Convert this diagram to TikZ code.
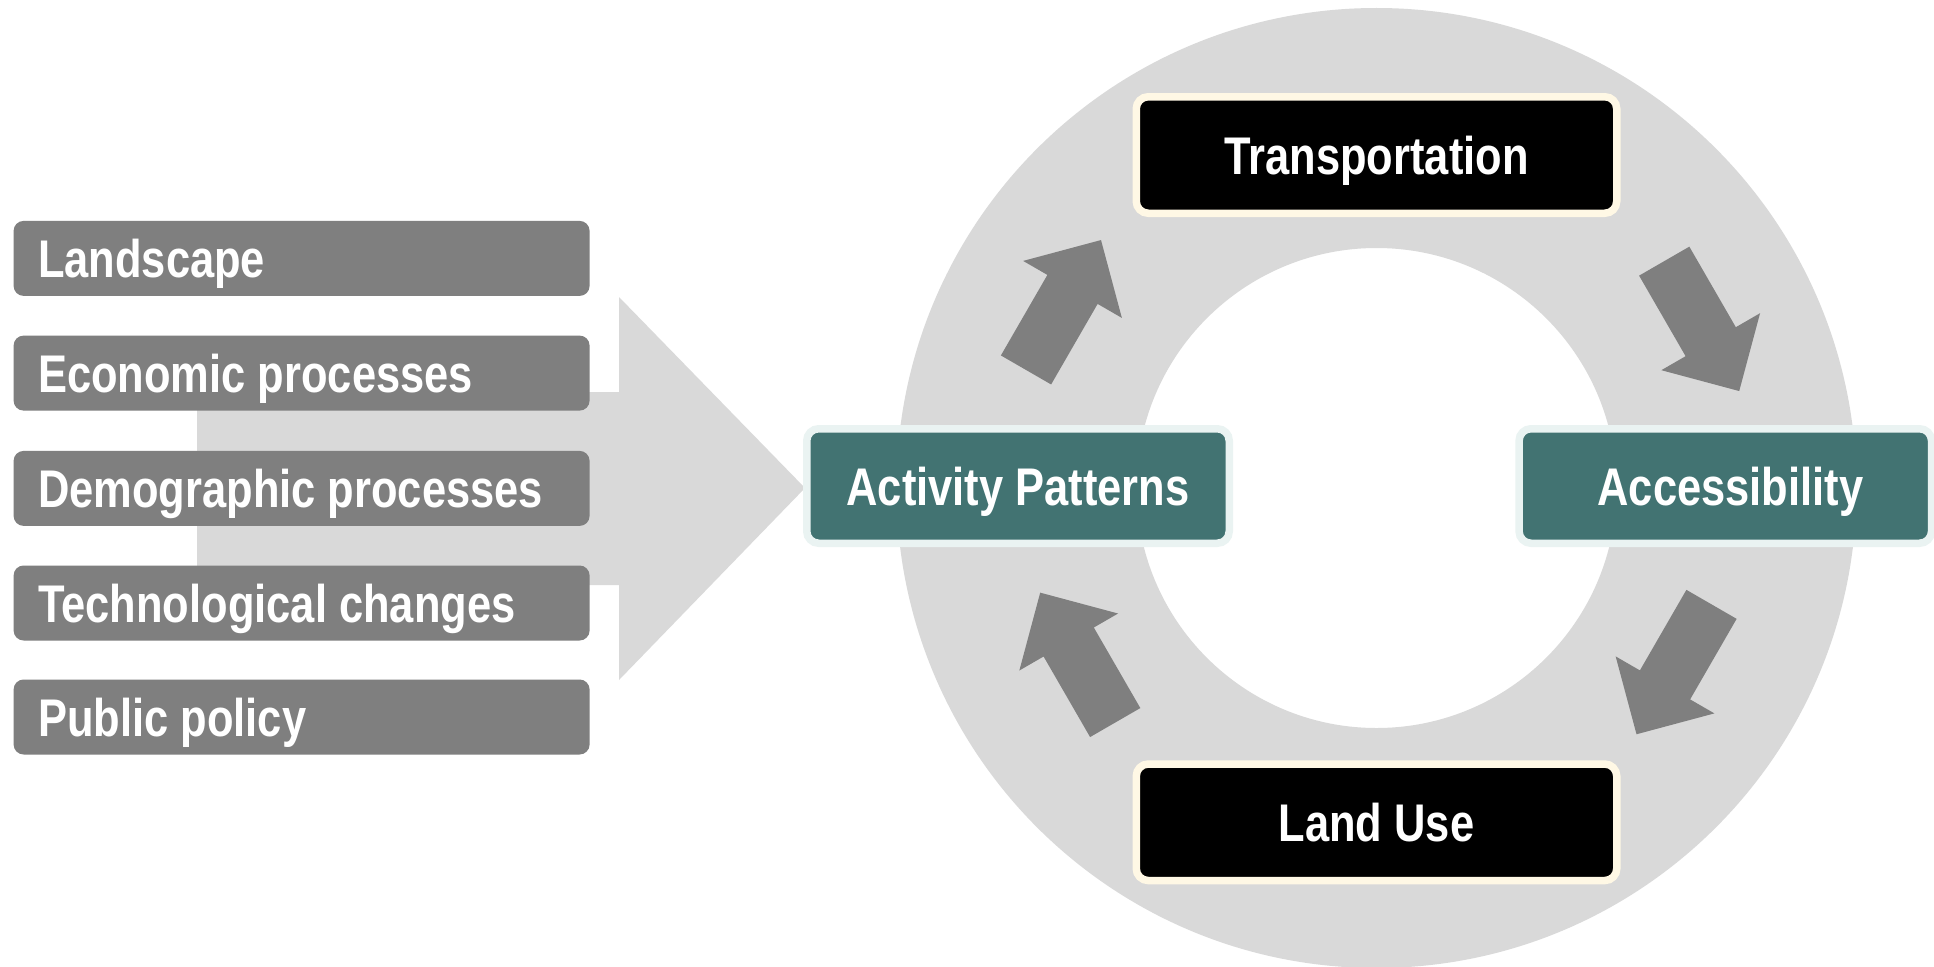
\documentclass[tikz,border=0pt]{standalone}
\usepackage{fontspec}
\setmainfont{Liberation Sans}[FakeStretch=0.82]
\definecolor{ringgray}{RGB}{217,217,217}
\definecolor{boxgray}{RGB}{127,127,127}
\definecolor{tealfill}{RGB}{66,115,114}
\definecolor{tealborder}{RGB}{234,243,242}
\definecolor{creamborder}{RGB}{255,248,229}
\begin{document}
\begin{tikzpicture}[x=1pt,y=-1pt,
  labelfont/.style={text=white, font=\bfseries\fontsize{53}{60}\selectfont, text height=38pt, text depth=0pt},
  leftbox/.style={labelfont, fill=boxgray, rounded corners=10pt, minimum width=576pt, minimum height=75pt,
    inner xsep=24.5pt, inner ysep=0pt, text width=527pt, align=flush left},
  cyclebox/.style={labelfont, rounded corners=12pt, line width=7.5pt, inner sep=0pt},
  blackbox/.style={cyclebox, fill=black, draw=creamborder, minimum width=480.5pt, minimum height=116.5pt},
  tealbox/.style={cyclebox, fill=tealfill, draw=tealborder, minimum height=114.5pt},
  blockarrow/.style={fill=boxgray}
]
\clip (0,0) rectangle (1934,966);
\fill[white] (0,0) rectangle (1934,966);

% big light arrow
\fill[ringgray] (197,392) -- (619,392) -- (619,297) -- (805,488) -- (619,680) -- (619,585) -- (197,585) -- cycle;

% ring
\coordinate (c) at (1376.5,488);
\fill[ringgray, even odd rule] (c) circle (480) (c) circle (240);

% block arrows on the ring
\foreach \cx/\cy/\ang in {1063.5/305/60, 1701.7/326.1/-60, 1674/669.3/-120, 1077.7/657.6/120}{
  \begin{scope}[shift={(\cx,\cy)}, rotate=\ang]
    \fill[blockarrow] (-75,-29) -- (18,-29) -- (18,-57) -- (75,0) -- (18,57) -- (18,29) -- (-75,29) -- cycle;
  \end{scope}
}

% left boxes
\node[leftbox] (land) at (301.6,258.4) {Landscape};
\node[leftbox] (econ) at (301.6,373.1) {Economic processes};
\node[leftbox] (demo) at (301.6,488.4) {Demographic processes};
\node[leftbox] (tech) at (301.6,603) {Technological changes};
\node[leftbox] (policy) at (301.6,717) {Public policy};

% cycle nodes
\node[blackbox] (trans) at (1376.5,155) {Transportation};
\node[blackbox] (landuse) at (1376.5,822.3) {Land Use};
\node[tealbox, minimum width=422.5pt] (activity) at (1018,486) {Activity Patterns};
\node[tealbox, minimum width=412.5pt] (access) at (1725.3,486) {\hspace*{10pt}Accessibility};
\end{tikzpicture}
\end{document}
